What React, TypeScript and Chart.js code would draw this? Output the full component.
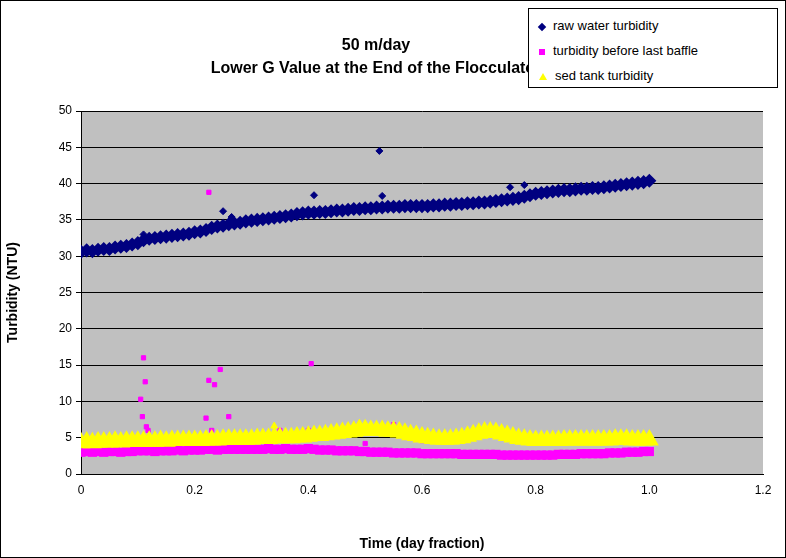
import React, { useEffect, useRef } from "react";
import { Chart, registerables } from "chart.js";
Chart.register(...registerables);

const rawWater = [
  30.6,30.8,30.7,30.9,31.0,31.0,31.2,31.3,31.4,31.6,31.8,
  32.2,32.4,32.5,32.6,32.7,32.8,32.9,33.0,33.1,33.3,
  33.4,33.6,33.9,34.1,34.2,34.4,34.5,34.6,34.8,34.9,
  35.0,35.1,35.2,35.3,35.4,35.5,35.6,35.8,35.9,36.0,
  36.0,36.1,36.1,36.2,36.3,36.3,36.4,36.5,36.5,36.6,
  36.6,36.7,36.7,36.8,36.8,36.8,36.9,36.9,36.9,36.9,
  36.9,37.0,37.0,37.1,37.1,37.2,37.2,37.3,37.3,37.4,
  37.4,37.5,37.6,37.7,37.8,37.9,38.0,38.2,38.4,38.6,
  38.7,38.8,38.9,39.0,39.1,39.1,39.2,39.3,39.3,39.4,
  39.4,39.5,39.6,39.7,39.8,39.9,40.0,40.1,40.2,40.4,
];
const rawOutX = [0.525, 0.41, 0.25, 0.755, 0.78, 0.53, 0.265, 0.11];
const rawOutY = [44.5, 38.4, 36.2, 39.5, 39.8, 38.3, 35.4, 33.0];

const baffle = [
  3.0,3.1,3.0,3.1,3.0,3.1,3.1,3.0,3.1,3.1,3.2,
  3.2,3.2,3.1,3.2,3.2,3.2,3.3,3.2,3.3,3.3,
  3.3,3.4,3.4,3.3,3.4,3.4,3.4,3.4,3.4,3.4,
  3.4,3.4,3.5,3.4,3.4,3.5,3.4,3.4,3.4,3.5,
  3.4,3.3,3.3,3.3,3.2,3.2,3.2,3.2,3.1,3.1,
  3.0,3.0,3.0,3.0,2.9,2.9,2.9,2.9,2.9,2.8,
  2.8,2.8,2.8,2.8,2.8,2.8,2.7,2.7,2.7,2.7,
  2.7,2.7,2.7,2.6,2.6,2.6,2.6,2.6,2.6,2.6,
  2.6,2.6,2.6,2.7,2.7,2.7,2.7,2.8,2.8,2.8,
  2.8,2.8,2.9,2.9,2.9,3.0,3.0,3.0,3.1,3.1,
];
const baffleOutX = [0.11,0.113,0.105,0.108,0.115,0.118,0.225,0.225,0.235,0.245,0.22,0.26,0.405,0.40,0.35,0.55,0.14,0.23,0.6,0.5];
const baffleOutY = [16,12.7,10.3,7.9,6.5,6.0,38.8,12.9,12.3,14.4,7.7,7.9,15.2,6.0,6.0,6.8,5.0,6.0,4.6,4.2];

const sedTank = [
  4.3,4.4,4.3,4.4,4.4,4.4,4.5,4.4,4.5,4.5,4.5,
  4.5,4.5,4.5,4.6,4.5,4.6,4.6,4.6,4.6,4.6,
  4.6,4.7,4.7,4.7,4.8,4.8,4.8,4.8,4.8,4.8,
  4.9,4.9,4.9,5.0,5.0,5.0,5.0,5.1,5.1,5.2,
  5.3,5.3,5.4,5.5,5.6,5.7,5.8,5.9,6.0,6.1,
  6.0,6.0,6.0,5.9,5.9,5.8,5.6,5.4,5.3,5.1,
  5.0,4.9,4.8,4.8,4.8,4.9,5.0,5.2,5.4,5.6,
  5.8,5.8,5.7,5.5,5.3,5.1,4.9,4.8,4.7,4.6,
  4.6,4.6,4.6,4.6,4.7,4.7,4.7,4.7,4.7,4.7,
  4.7,4.7,4.7,4.8,4.8,4.8,4.7,4.7,4.7,4.7,
];
const sedOutX = [0.34, 0.26, 0.49];
const sedOutY = [6.6, 5.6, 7.0];

const xTicks = [0, 0.2, 0.4, 0.6, 0.8, 1, 1.2];

const main = (vals: number[]) => vals.map((v, i) => ({ x: i / 100, y: v }));
const outs = (ox: number[], oy: number[]) => ox.map((x, i) => ({ x, y: oy[i] }));

export default function App() {
  const ref = useRef<HTMLCanvasElement>(null);
  useEffect(() => {
    document.body.style.margin = "0";
    const bg = {
      id: "bg",
      beforeDraw(c: any) {
        const a = c.chartArea, ctx = c.ctx;
        ctx.save();
        ctx.fillStyle = "#ffffff";
        ctx.fillRect(0, 0, c.width, c.height);
        ctx.fillStyle = "#C0C0C0";
        ctx.fillRect(a.left, a.top, a.right - a.left, a.bottom - a.top);
        ctx.restore();
      },
    };
    const mk = (data: any[], color: string, style: string, r: number, line: number) => ({
      data,
      pointStyle: style,
      pointRadius: r,
      backgroundColor: color,
      borderColor: color,
      borderWidth: 1,
      showLine: line > 0,
      borderWidth2: 0,
      ...(line > 0 ? { borderWidth: line } : {}),
    });
    const chart = new Chart(ref.current!, {
      type: "scatter",
      data: {
        datasets: [
          mk(main(sedTank), "#FFFF00", "triangle", 4, 7),
          mk(outs(sedOutX, sedOutY), "#FFFF00", "triangle", 4, 0),
          mk(main(baffle), "#FF00FF", "rect", 3, 5),
          mk(outs(baffleOutX, baffleOutY), "#FF00FF", "rect", 3, 0),
          mk(main(rawWater), "#000080", "rectRot", 3.5, 5),
          mk(outs(rawOutX, rawOutY), "#000080", "rectRot", 3.5, 0),
        ],
      },
      plugins: [bg],
      options: {
        animation: false,
        responsive: false,
        layout: { padding: { top: 110, right: 22, left: 0, bottom: 0 } },
        plugins: { legend: { display: false }, title: { display: false }, tooltip: { enabled: false } },
        scales: {
          x: {
            type: "linear", min: 0, max: 1.2,
            afterFit: (s: any) => { s.height = 83; },
            afterBuildTicks: (s: any) => { s.ticks = xTicks.map((v) => ({ value: v })); },
            grid: { display: false, drawTicks: true, tickLength: 5, tickColor: "#000" },
            border: { color: "#000", width: 1 },
            ticks: { color: "#000", font: { family: "Arial, Liberation Sans", size: 12 }, padding: 4, maxRotation: 0 },
            title: { display: true, text: "Time (day fraction)", color: "#000", font: { family: "Arial, Liberation Sans", size: 14, weight: "bold" }, padding: { top: 12 } },
          },
          y: {
            type: "linear", min: 0, max: 50,
            afterFit: (s: any) => { s.width = 80; },
            grid: { color: "#000", lineWidth: 1, tickLength: 5, tickColor: "#000" },
            border: { color: "#000", width: 1 },
            ticks: { stepSize: 5, color: "#000", font: { family: "Arial, Liberation Sans", size: 12 }, padding: 4 },
            title: { display: true, text: "Turbidity (NTU)", color: "#000", font: { family: "Arial, Liberation Sans", size: 14, weight: "bold" }, padding: { bottom: 6 } },
          },
        },
      } as any,
    });
    return () => chart.destroy();
  }, []);
  const f = "Arial, 'Liberation Sans', sans-serif";
  const mark = (c: string, shape: string) => {
    if (shape === "tri")
      return <span style={{ display: "inline-block", width: 0, height: 0, borderLeft: "4px solid transparent", borderRight: "4px solid transparent", borderBottom: `7px solid ${c}`, marginRight: 8 }} />;
    return <span style={{ display: "inline-block", width: 6, height: 6, background: c, transform: shape === "dia" ? "rotate(45deg)" : "none", marginRight: 8 }} />;
  };
  return (
    <div style={{ position: "relative", width: 786, height: 558, boxSizing: "border-box", border: "1px solid #000", overflow: "hidden" }}>
      <canvas ref={ref} width={784} height={556} style={{ display: "block" }} />
      <div style={{ position: "absolute", left: 140, top: 32, width: 470, textAlign: "center", fontFamily: f, fontWeight: "bold", fontSize: 16, lineHeight: "23px", whiteSpace: "nowrap" }}>
        50 m/day<br />Lower G Value at the End of the Flocculator
      </div>
      <div style={{ position: "absolute", left: 527, top: 7, width: 250, height: 80, border: "1px solid #000", background: "#fff", fontFamily: f, fontSize: 13, boxSizing: "border-box", padding: "4px 0 0 10px", lineHeight: "25px" }}>
        <div>{mark("#000080", "dia")}raw water turbidity</div>
        <div>{mark("#FF00FF", "sq")}turbidity before last baffle</div>
        <div>{mark("#FFFF00", "tri")}sed tank turbidity</div>
      </div>
    </div>
  );
}
